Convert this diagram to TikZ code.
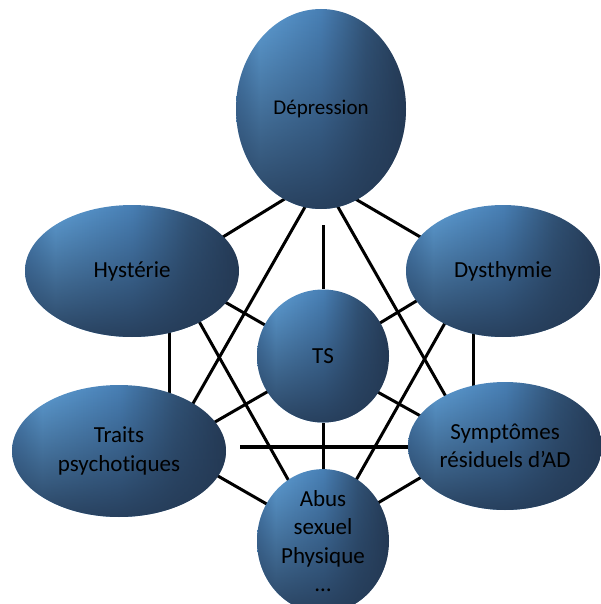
\documentclass[tikz,border=0pt]{standalone}
\usepackage{fontspec}
\setmainfont{Carlito}[Ligatures=NoCommon]
\usetikzlibrary{shapes.geometric,calc,backgrounds,fadings}

% colours of the shaded bubbles
\definecolor{blobLight}{RGB}{94,158,213}
\definecolor{blobMid}{RGB}{72,127,180}
\definecolor{blobDeep}{RGB}{50,84,120}
\definecolor{blobDark}{RGB}{36,57,84}

% left-to-right body shading (path box spans 25bp..75bp)
\pgfdeclarehorizontalshading{blobside}{100bp}{%
  color(0bp)=(blobMid); color(25bp)=(blobMid); color(32bp)=(blobLight);
  color(50bp)=(blobMid); color(63bp)=(blobDeep); color(75bp)=(blobDark);
  color(100bp)=(blobDark)}

% darkening towards the lower half
\tikzfading[name=blobfade, top color=transparent!100,
  middle color=transparent!100, bottom color=transparent!10]

\tikzset{
  blob/.style={ellipse, inner sep=0pt, shade, shading=blobside,
    path picture={\fill[blobDark, path fading=blobfade]
      (path picture bounding box.south west) rectangle
      (path picture bounding box.north east);},
    align=center, text=black, font=\fontsize{23}{28.5}\selectfont},
  conn/.style={line width=3pt, black}
}

\begin{document}
\begin{tikzpicture}[x=1pt,y=-1pt]
\useasboundingbox (0,0) rectangle (601,604);

% bubbles
\node[blob, minimum width=170pt, minimum height=200pt,
      font=\fontsize{21}{26}\selectfont] (D) at (321,109) {Dépression};
\node[blob, minimum width=214pt, minimum height=132pt] (H) at (132,271) {Hystérie};
\node[blob, minimum width=194pt, minimum height=132pt] (Y) at (503,271) {Dysthymie};
\node[blob, minimum width=132pt, minimum height=133pt] (T) at (323,356) {TS};
\node[blob, minimum width=214pt, minimum height=132pt] (P) at (119,451) {Traits\\psychotiques};
\node[blob, minimum width=194pt, minimum height=128pt] (S) at (505,446) {Symptômes\\résiduels d’AD};
\node[blob, minimum width=132pt, minimum height=126pt] (A) at (323,541) {Abus\\sexuel\\Physique\\…};

% links, drawn behind the bubbles
\begin{scope}[on background layer]
  \draw[conn] ($(H)+(73,-23)$) -- ($(D)+(-21,80.5)$);
  \draw[conn] ($(D)+(19,81)$) -- ($(Y)+(-63,-22.5)$);
  \draw[conn] ($(D)+(2,116)$) -- (T);
  \draw[conn] ($(D)+(-6.3,81)$) -- ($(P)+(64.6,-31)$);
  \draw[conn] ($(D)+(7.3,81)$) -- ($(S)+(-48.6,-31)$);
  \draw[conn] ($(H)+(78,22.4)$) -- ($(T)+(-33,-16.6)$);
  \draw[conn] ($(Y)+(-68,18.7)$) -- ($(T)+(33,-18.5)$);
  \draw[conn] ($(H)+(37,29)$) -- ($(P)+(50,-31)$);
  \draw[conn] ($(Y)+(-30,29)$) -- ($(S)+(-32,-31)$);
  \draw[conn] ($(H)+(55,29)$) -- ($(A)+(-15,-26)$);
  \draw[conn] ($(Y)+(-45,29)$) -- ($(A)+(13.3,-26)$);
  \draw[conn] ($(T)+(-33,22.7)$) -- ($(P)+(76,-17.5)$);
  \draw[conn] ($(T)+(33,24)$) -- ($(S)+(-70,-22)$);
  \draw[conn] (T) -- (A);
  \draw[conn] ($(P)+(81,14.7)$) -- ($(A)+(-33,-23.6)$);
  \draw[conn] ($(S)+(-65,20)$) -- ($(A)+(33,-25)$);
  \draw[conn, line width=4.2pt] ($(P)+(121,-4)$) -- ($(S)+(-60,1)$);
\end{scope}
\end{tikzpicture}
\end{document}
